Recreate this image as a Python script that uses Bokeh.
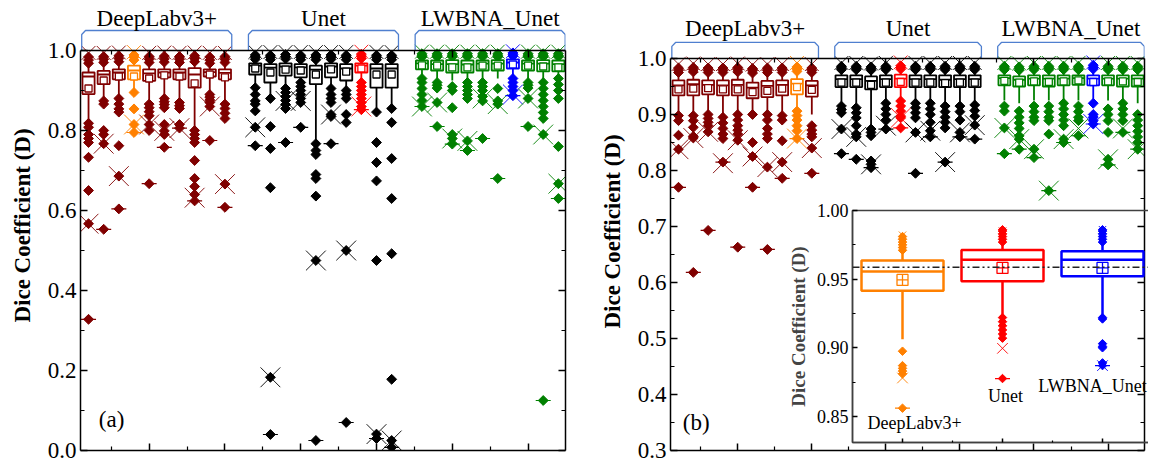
import numpy as np
from bokeh.plotting import figure
from bokeh.models import Range1d, LinearAxis, FixedTicker, NumeralTickFormatter, ColumnDataSource, GridBox, Span
from bokeh.layouts import row
from bokeh.embed import file_html
from bokeh.resources import INLINE
from bokeh.core.properties import value

FONT = "Liberation Serif"
MODELS = ["DeepLabv3+", "Unet", "LWBNA_Unet"]
BASE_COLORS = ["#800000", "#000000", "#008000"]
PICK_COLORS = ["#FF8000", "#FF0000", "#0000FF"]
BRACKET_COLOR = "#4F7FCF"

RUNS = list(range(1, 11))                      # ten runs per model
X_POS = [g * 11 + r for g in range(3) for r in RUNS]
X_MAJOR = [5, 10, 15, 20, 25, 30]
X_MINOR = [2.5, 7.5, 12.5, 17.5, 22.5, 27.5]

# ---------------- panel (a): full test set ----------------
A_PICK = [3, 7, 6]
A_Q1 = [0.891, 0.916, 0.928, 0.928, 0.924, 0.933, 0.928, 0.907, 0.935, 0.928,
        0.940, 0.920, 0.937, 0.933, 0.916, 0.933, 0.925, 0.945, 0.907, 0.907,
        0.953, 0.950, 0.945, 0.945, 0.950, 0.950, 0.955, 0.950, 0.948, 0.948]
A_MED = [0.935, 0.940, 0.945, 0.950, 0.943, 0.945, 0.945, 0.940, 0.946, 0.944,
         0.962, 0.957, 0.960, 0.958, 0.952, 0.960, 0.955, 0.962, 0.955, 0.955,
         0.968, 0.966, 0.966, 0.965, 0.967, 0.967, 0.970, 0.967, 0.967, 0.966]
A_Q3 = [0.945, 0.949, 0.953, 0.962, 0.953, 0.953, 0.953, 0.956, 0.953, 0.953,
        0.968, 0.966, 0.968, 0.966, 0.962, 0.968, 0.966, 0.968, 0.966, 0.966,
        0.975, 0.975, 0.976, 0.975, 0.975, 0.976, 0.978, 0.975, 0.976, 0.975]
A_MEAN = [0.905, 0.925, 0.935, 0.935, 0.930, 0.938, 0.935, 0.918, 0.940, 0.933,
          0.955, 0.945, 0.952, 0.950, 0.940, 0.953, 0.947, 0.955, 0.940, 0.940,
          0.963, 0.962, 0.958, 0.958, 0.962, 0.962, 0.965, 0.962, 0.960, 0.958]
A_WLO = [0.826, 0.876, 0.884, 0.900, 0.868, 0.885, 0.874, 0.800, 0.893, 0.868,
         0.905, 0.880, 0.910, 0.915, 0.770, 0.910, 0.900, 0.920, 0.846, 0.855,
         0.935, 0.930, 0.925, 0.930, 0.930, 0.930, 0.935, 0.930, 0.830, 0.930]
A_WHI = [0.965, 0.968, 0.970, 0.975, 0.968, 0.970, 0.968, 0.970, 0.966, 0.968,
         0.978, 0.976, 0.978, 0.976, 0.976, 0.978, 0.976, 0.980, 0.976, 0.976,
         0.984, 0.984, 0.984, 0.984, 0.984, 0.984, 0.986, 0.984, 0.984, 0.984]
A_LOW = [
    [0.818, 0.808, 0.790, 0.780, 0.770, 0.733, 0.650, 0.567, 0.328],
    [0.874, 0.866, 0.800, 0.790, 0.767, 0.553],
    [0.880, 0.866, 0.854, 0.846, 0.762, 0.686, 0.604],
    [0.895, 0.854, 0.815, 0.795],
    [0.866, 0.857, 0.847, 0.837, 0.815, 0.800, 0.667],
    [0.880, 0.872, 0.865, 0.857, 0.815, 0.799, 0.790, 0.758],
    [0.870, 0.862, 0.855, 0.815, 0.806],
    [0.800, 0.790, 0.780, 0.770, 0.725, 0.680, 0.660, 0.640, 0.624],
    [0.890, 0.883, 0.876, 0.870, 0.860, 0.775],
    [0.866, 0.855, 0.843, 0.830, 0.666, 0.608],
    [0.907, 0.890, 0.874, 0.866, 0.849, 0.808, 0.762],
    [0.880, 0.810, 0.755, 0.657, 0.183, 0.040],
    [0.905, 0.895, 0.885, 0.875, 0.865, 0.855, 0.770],
    [0.920, 0.910, 0.900, 0.890, 0.880, 0.870, 0.808],
    [0.767, 0.750, 0.740, 0.690, 0.680, 0.636, 0.475, 0.025],
    [0.905, 0.890, 0.880, 0.870, 0.840, 0.835, 0.767],
    [0.900, 0.890, 0.880, 0.840, 0.820, 0.500, 0.070],
    [0.920, 0.910, 0.900, 0.890, 0.880, 0.870, 0.860, 0.852],
    [0.846, 0.770, 0.720, 0.674, 0.475, 0.041, 0.030],
    [0.855, 0.820, 0.730, 0.630, 0.492, 0.178, 0.025, 0.008],
    [0.930, 0.920, 0.905, 0.890, 0.875, 0.860],
    [0.920, 0.913, 0.906, 0.870, 0.810],
    [0.910, 0.900, 0.857, 0.790, 0.780, 0.766],
    [0.920, 0.910, 0.900, 0.890, 0.880, 0.774, 0.750],
    [0.920, 0.910, 0.900, 0.885, 0.874, 0.780],
    [0.905, 0.874, 0.866, 0.680],
    [0.930, 0.920, 0.910, 0.900, 0.887],
    [0.920, 0.913, 0.906, 0.880, 0.810],
    [0.920, 0.905, 0.890, 0.875, 0.860, 0.845, 0.830, 0.790, 0.125],
    [0.930, 0.915, 0.900, 0.880, 0.760, 0.667, 0.630],
]
A_HIGH = [
    [0.968, 0.976, 0.984], [0.970, 0.978, 0.985], [0.972, 0.980, 0.987], [0.976, 0.983, 0.989],
    [0.970, 0.978, 0.985], [0.971, 0.979, 0.986], [0.970, 0.978, 0.985], [0.972, 0.980, 0.987],
    [0.968, 0.976, 0.984], [0.970, 0.978, 0.985],
    [0.978, 0.984, 0.989], [0.977, 0.983, 0.988], [0.979, 0.985, 0.990], [0.977, 0.983, 0.988],
    [0.977, 0.983, 0.989], [0.978, 0.984, 0.989], [0.977, 0.983, 0.988], [0.980, 0.986, 0.991],
    [0.977, 0.983, 0.988], [0.977, 0.983, 0.988],
    [0.984, 0.988, 0.992], [0.984, 0.988, 0.992], [0.984, 0.988, 0.992], [0.984, 0.988, 0.992],
    [0.984, 0.988, 0.992], [0.984, 0.988, 0.992], [0.986, 0.990, 0.994], [0.984, 0.988, 0.992],
    [0.984, 0.988, 0.992], [0.984, 0.988, 0.992],
]
A_XLO = [0.567, 0.767, 0.686, 0.815, 0.815, 0.799, 0.806, 0.632, 0.860, 0.666,
         0.808, 0.183, 0.874, 0.874, 0.475, 0.840, 0.500, 0.860, 0.041, 0.025,
         0.860, 0.870, 0.780, 0.774, 0.880, 0.866, 0.890, 0.880, 0.790, 0.667]
A_XHI = [0.994, 0.994, 0.995, 0.996, 0.994, 0.995, 0.994, 0.995, 0.994, 0.994,
         0.996, 0.996, 0.996, 0.996, 0.996, 0.996, 0.996, 0.997, 0.996, 0.996,
         0.997, 0.997, 0.997, 0.997, 0.997, 0.997, 0.998, 0.997, 0.997, 0.997]

# ---------------- panel (b): subset ----------------
B_PICK = [8, 4, 6]
B_Q1 = [0.934, 0.934, 0.936, 0.934, 0.934, 0.929, 0.931, 0.934, 0.936, 0.932,
        0.949, 0.949, 0.945, 0.949, 0.949, 0.949, 0.949, 0.949, 0.949, 0.949,
        0.952, 0.950, 0.952, 0.950, 0.952, 0.953, 0.952, 0.952, 0.950, 0.950]
B_MED = [0.952, 0.954, 0.953, 0.952, 0.953, 0.948, 0.951, 0.953, 0.955, 0.952,
         0.963, 0.963, 0.960, 0.963, 0.964, 0.963, 0.963, 0.962, 0.963, 0.963,
         0.965, 0.962, 0.964, 0.964, 0.964, 0.965, 0.964, 0.964, 0.964, 0.964]
B_Q3 = [0.961, 0.962, 0.961, 0.961, 0.962, 0.957, 0.960, 0.961, 0.963, 0.960,
        0.970, 0.970, 0.968, 0.970, 0.971, 0.970, 0.970, 0.970, 0.970, 0.970,
        0.970, 0.968, 0.970, 0.970, 0.970, 0.970, 0.970, 0.970, 0.970, 0.970]
B_MEAN = [0.945, 0.946, 0.947, 0.945, 0.945, 0.940, 0.942, 0.946, 0.949, 0.944,
          0.957, 0.957, 0.953, 0.957, 0.958, 0.957, 0.957, 0.956, 0.957, 0.957,
          0.960, 0.957, 0.959, 0.958, 0.959, 0.961, 0.958, 0.959, 0.959, 0.958]
B_WLO = [0.905, 0.905, 0.905, 0.900, 0.905, 0.895, 0.905, 0.905, 0.910, 0.900,
         0.920, 0.920, 0.874, 0.925, 0.925, 0.925, 0.925, 0.920, 0.920, 0.920,
         0.925, 0.920, 0.925, 0.925, 0.925, 0.925, 0.925, 0.925, 0.925, 0.920]
B_WHI = [0.972, 0.973, 0.972, 0.972, 0.973, 0.970, 0.971, 0.972, 0.974, 0.971,
         0.978, 0.978, 0.977, 0.978, 0.979, 0.978, 0.978, 0.978, 0.978, 0.978,
         0.978, 0.977, 0.978, 0.978, 0.978, 0.978, 0.978, 0.978, 0.978, 0.978]
B_LOW = [
    [0.898, 0.889, 0.863, 0.838, 0.770],
    [0.898, 0.889, 0.877, 0.861, 0.858, 0.618],
    [0.900, 0.893, 0.886, 0.880, 0.869, 0.693],
    [0.895, 0.885, 0.875, 0.865, 0.857, 0.815],
    [0.900, 0.890, 0.880, 0.872, 0.865, 0.854, 0.663],
    [0.900, 0.850, 0.825, 0.770],
    [0.900, 0.890, 0.875, 0.865, 0.857, 0.806, 0.659],
    [0.898, 0.890, 0.853, 0.815, 0.786],
    [0.906, 0.898, 0.890, 0.880, 0.871, 0.857],
    [0.880, 0.872, 0.865, 0.860, 0.840, 0.795],
    [0.915, 0.909, 0.903, 0.874, 0.830],
    [0.912, 0.903, 0.894, 0.880, 0.865, 0.860, 0.820],
    [0.874, 0.868, 0.862, 0.817, 0.811, 0.805],
    [0.920, 0.910, 0.900, 0.890, 0.874],
    [0.924, 0.915, 0.906, 0.897, 0.894, 0.876],
    [0.920, 0.912, 0.903, 0.894, 0.868, 0.795],
    [0.920, 0.910, 0.900, 0.886, 0.871, 0.860],
    [0.915, 0.905, 0.895, 0.886, 0.876, 0.815],
    [0.915, 0.905, 0.890, 0.868, 0.860],
    [0.917, 0.907, 0.897, 0.881, 0.856],
    [0.915, 0.906, 0.876, 0.830],
    [0.906, 0.895, 0.885, 0.875, 0.862, 0.856, 0.838],
    [0.915, 0.905, 0.895, 0.889, 0.838, 0.823],
    [0.915, 0.905, 0.895, 0.889, 0.865, 0.764],
    [0.920, 0.910, 0.900, 0.890, 0.880, 0.856, 0.850],
    [0.915, 0.905, 0.895, 0.889, 0.862],
    [0.920, 0.900, 0.895, 0.889, 0.883],
    [0.910, 0.900, 0.889, 0.868, 0.820, 0.810],
    [0.920, 0.910, 0.900, 0.889, 0.868],
    [0.900, 0.890, 0.880, 0.870, 0.860, 0.850, 0.838],
]
B_HIGH = [
    [0.975, 0.979, 0.983], [0.976, 0.980, 0.984], [0.975, 0.979, 0.983], [0.975, 0.979, 0.983],
    [0.976, 0.980, 0.984], [0.974, 0.978, 0.982], [0.975, 0.979, 0.983], [0.975, 0.979, 0.983],
    [0.977, 0.981, 0.985], [0.975, 0.979, 0.983],
    [0.980, 0.983, 0.986], [0.980, 0.983, 0.986], [0.979, 0.982, 0.985], [0.980, 0.983, 0.986],
    [0.981, 0.984, 0.987], [0.980, 0.983, 0.986], [0.980, 0.983, 0.986], [0.980, 0.983, 0.986],
    [0.980, 0.983, 0.986], [0.980, 0.983, 0.986],
    [0.980, 0.983, 0.986], [0.979, 0.982, 0.985], [0.980, 0.983, 0.986], [0.980, 0.983, 0.986],
    [0.980, 0.983, 0.986], [0.980, 0.983, 0.986], [0.981, 0.984, 0.988], [0.980, 0.983, 0.986],
    [0.980, 0.983, 0.986], [0.980, 0.983, 0.986],
]
B_XLO = [0.838, 0.858, 0.869, 0.813, 0.854, 0.825, 0.806, 0.815, 0.857, 0.840,
         0.874, 0.860, 0.811, 0.880, 0.894, 0.868, 0.871, 0.815, 0.868, 0.881,
         0.876, 0.856, 0.838, 0.764, 0.856, 0.875, 0.883, 0.820, 0.875, 0.838]
B_XHI = [0.990, 0.991, 0.990, 0.990, 0.991, 0.989, 0.990, 0.990, 0.992, 0.990,
         0.992, 0.992, 0.991, 0.992, 0.993, 0.992, 0.992, 0.992, 0.992, 0.992,
         0.992, 0.991, 0.992, 0.992, 0.992, 0.992, 0.993, 0.992, 0.992, 0.992]

# ---------------- inset (b): pooled runs ----------------
IN_POS = [1, 2, 3]
IN_Q1 = [0.9416, 0.9484, 0.9521]
IN_MED = [0.9555, 0.9642, 0.9642]
IN_Q3 = [0.9635, 0.9713, 0.9703]
IN_MEAN = [0.9494, 0.9582, 0.9582]
IN_WLO = [0.9063, 0.9246, 0.9246]
IN_WHI = [0.9696, 0.9757, 0.9757]
IN_LOW = [[0.8975, 0.887, 0.885, 0.883, 0.881, 0.856],
          [0.922, 0.919, 0.916, 0.913, 0.910, 0.907, 0.8776],
          [0.922, 0.921, 0.903, 0.901, 0.900, 0.889, 0.887]]
IN_HIGH = [[0.971, 0.973, 0.975, 0.977, 0.979, 0.981],
           [0.977, 0.979, 0.981, 0.983, 0.985, 0.986],
           [0.977, 0.979, 0.981, 0.983, 0.985, 0.986]]
IN_XLO = [0.878, 0.8996, 0.887]
IN_XHI = [0.982, 0.985, 0.986]
IN_REF = 0.9586
IN_YTICKS = [0.85, 0.90, 0.95, 1.00]


def style_axis(ax, show_labels, size="23px", tick=7, minor=4):
    ax.axis_line_color = "black"
    ax.axis_line_width = 1.5
    ax.major_tick_line_color = "black"
    ax.minor_tick_line_color = "black"
    ax.major_tick_line_width = 1.5
    ax.minor_tick_line_width = 1.2
    ax.major_tick_in = tick
    ax.major_tick_out = 0
    ax.minor_tick_in = minor
    ax.minor_tick_out = 0
    if show_labels:
        ax.major_label_text_font = FONT
        ax.major_label_text_font_size = size
        ax.major_label_text_color = "black"
        ax.major_label_standoff = 4
    else:
        # tick marks only: labels are not painted
        ax.major_label_text_font_size = "1px"
        ax.major_label_text_color = None
        ax.major_label_standoff = 0


def make_main(x_range, y0, y1, ytop, yticks, yminor, left, right, top, fh, fw, bottom):
    # the frame extends above y1 to leave room for the model brackets; the
    # visible box of the plot runs from y0 to y1 only
    p = figure(x_range=x_range, y_range=Range1d(y0, ytop), frame_width=fw, frame_height=fh,
               output_backend="svg", toolbar_location=None,
               min_border_left=left, min_border_right=right, min_border_top=top,
               min_border_bottom=bottom, align="start")
    p.xgrid.visible = False
    p.ygrid.visible = False
    p.outline_line_color = None
    p.background_fill_color = "white"
    p.border_fill_color = "white"
    xt = FixedTicker(ticks=X_MAJOR, minor_ticks=X_MINOR)
    yt = FixedTicker(ticks=yticks, minor_ticks=yminor)
    p.xaxis.ticker = xt
    style_axis(p.xaxis[0], False)
    p.yaxis.ticker = yt
    p.yaxis.bounds = (y0, y1)
    p.yaxis.formatter = NumeralTickFormatter(format="0.0")
    style_axis(p.yaxis[0], True)
    p.yaxis.axis_label = "Dice Coefficient (D)"
    p.yaxis.axis_label_text_font = FONT
    p.yaxis.axis_label_text_font_style = "bold"
    p.yaxis.axis_label_text_font_size = "23px"
    p.yaxis.axis_label_text_color = "black"
    p.yaxis.axis_label_standoff = 10
    top_ax = LinearAxis(ticker=xt, fixed_location=y1)
    style_axis(top_ax, False)
    p.add_layout(top_ax, "above")
    rgt = LinearAxis(ticker=yt, bounds=(y0, y1))
    style_axis(rgt, False)
    p.add_layout(rgt, "right")
    return p


def draw_boxes(p, xs, q1, med, q3, mean, wlo, whi, lows, highs, xlo, xhi, cols,
               half=0.4, lw=1.8, dsize=7, xsize=28, mean_marker="square", msize=7):
    x = np.array(xs, dtype=float)
    src = ColumnDataSource(dict(x=x, x0=x - half, x1=x + half, q1=q1, med=med, q3=q3,
                                mean=mean, wlo=wlo, whi=whi, c=cols,
                                lo=[min(v) for v in lows], xl=xlo, xh=xhi))
    p.segment("x", "wlo", "x", "q1", source=src, line_color="c", line_width=lw)
    p.segment("x", "q3", "x", "whi", source=src, line_color="c", line_width=lw)
    ox, oy, oc = [], [], []
    for k in range(len(x)):
        for v in list(lows[k]) + list(highs[k]):
            ox.append(x[k])
            oy.append(v)
            oc.append(cols[k])
    p.scatter(x=ox, y=oy, marker="square", angle=np.pi / 4, size=dsize,
              fill_color=oc, line_color=oc)
    p.vbar(x="x", width=2 * half, bottom="q1", top="q3", source=src,
           fill_color="white", line_color="c", line_width=lw)
    p.segment("x0", "med", "x1", "med", source=src, line_color="c", line_width=lw)
    p.scatter("x", "mean", source=src, marker=mean_marker, size=msize,
              fill_color="white", line_color="c", line_width=1.3)
    p.scatter("x", "xl", source=src, marker="x", size=xsize, line_color="c", line_width=0.9)
    p.scatter("x", "xh", source=src, marker="x", size=xsize * 0.7, line_color="c", line_width=0.9)
    p.scatter("x", "lo", source=src, marker="dash", size=15, line_color="c", line_width=1.2)


def box_colors(pick):
    out = []
    for g in range(3):
        for r in range(10):
            out.append(PICK_COLORS[g] if r == pick[g] else BASE_COLORS[g])
    return out


def draw_brackets(p, base, rise, corner, text_y):
    xs_list, ys_list = [], []
    for g in range(3):
        lo = X_POS[g * 10] - 0.45
        hi = X_POS[g * 10 + 9] + 0.45
        c = 0.25
        xs_list.append([lo, lo, lo + c, hi - c, hi, hi])
        ys_list.append([base, base + rise - corner, base + rise, base + rise,
                        base + rise - corner, base])
    p.multi_line(xs_list, ys_list, line_color=BRACKET_COLOR, line_width=1.3)
    centers = [(X_POS[g * 10] + X_POS[g * 10 + 9]) / 2 for g in range(3)]
    p.text(x=centers, y=[text_y] * 3, text=MODELS, text_align="center", text_baseline="middle",
           text_font=value(FONT), text_font_size="23px", text_color="black")


# ---------------- panel (a) ----------------
xr_a = Range1d(0.47, 32.47)
main_a = make_main(xr_a, 0.0, 1.0, 1.125, [0.0, 0.2, 0.4, 0.6, 0.8, 1.0],
                   [0.1, 0.3, 0.5, 0.7, 0.9], 80, 31, 0, 450, 485, 14)
draw_boxes(main_a, X_POS, A_Q1, A_MED, A_Q3, A_MEAN, A_WLO, A_WHI, A_LOW, A_HIGH,
           A_XLO, A_XHI, box_colors(A_PICK))
draw_brackets(main_a, 1.0, 0.05, 0.01, 1.08)
main_a.text(x=[2.52], y=[0.078], text=["(a)"], text_align="center", text_baseline="middle",
            text_font=value(FONT), text_font_size="23px", text_color="black")

# ---------------- panel (b) ----------------
xr_b = Range1d(0.46, 32.46)
main_b = make_main(xr_b, 0.3, 1.0, 1.0821, [0.3, 0.4, 0.5, 0.6, 0.7, 0.8, 0.9, 1.0],
                   [0.35, 0.45, 0.55, 0.65, 0.75, 0.85, 0.95], 72, 12, 12, 438, 474, 14)
draw_boxes(main_b, X_POS, B_Q1, B_MED, B_Q3, B_MEAN, B_WLO, B_WHI, B_LOW, B_HIGH,
           B_XLO, B_XHI, box_colors(B_PICK))
draw_brackets(main_b, 1.0, 0.0286, 0.007, 1.0536)
main_b.text(x=[2.2], y=[0.35], text=["(b)"], text_align="center", text_baseline="middle",
            text_font=value(FONT), text_font_size="23px", text_color="black")

# ---------------- inset ----------------
inset = figure(x_range=Range1d(0.5, 3.52), y_range=Range1d(0.831, 1.0), frame_width=302,
               frame_height=232, output_backend="svg", toolbar_location=None,
               min_border_left=62, min_border_right=0, min_border_top=12, min_border_bottom=2,
               margin=(198, 0, 0, 182), align="start")
inset.xgrid.visible = False
inset.ygrid.visible = False
inset.outline_line_color = "#404040"
inset.outline_line_width = 1.5
inset.background_fill_color = None
inset.border_fill_color = None
inset.xaxis.ticker = FixedTicker(ticks=IN_POS, minor_ticks=[1.5, 2.5])
style_axis(inset.xaxis[0], False, tick=4, minor=2)
inset.xaxis.axis_line_color = "#404040"
inset.yaxis.ticker = FixedTicker(ticks=IN_YTICKS, minor_ticks=[0.875, 0.925, 0.975])
inset.yaxis.formatter = NumeralTickFormatter(format="0.00")
style_axis(inset.yaxis[0], True, size="18px", tick=5, minor=3)
inset.yaxis.axis_line_color = "#404040"
inset.yaxis.axis_label = "Dice Coefficient (D)"
inset.yaxis.axis_label_text_font = FONT
inset.yaxis.axis_label_text_font_style = "bold"
inset.yaxis.axis_label_text_font_size = "19px"
inset.yaxis.axis_label_standoff = 5
inset.add_layout(Span(location=IN_REF, dimension="width", line_color="#222222",
                      line_width=1.5, line_dash="7 3 2 3 2 3"))
draw_boxes(inset, IN_POS, IN_Q1, IN_MED, IN_Q3, IN_MEAN, IN_WLO, IN_WHI, IN_LOW, IN_HIGH,
           IN_XLO, IN_XHI, PICK_COLORS, half=0.41, lw=2.5, dsize=6, xsize=15,
           mean_marker="square_cross", msize=11)
inset.text(x=[1.12, 2.03, 2.9], y=[0.845, 0.865, 0.872], text=MODELS, text_align="center",
           text_baseline="middle", text_font=value(FONT), text_font_size="18px",
           text_color="black")

panel_b = GridBox(children=[(main_b, 0, 0), (inset, 0, 0)], align="start")
layout = row(main_a, panel_b)

open("out.html", "w").write(file_html(layout, INLINE))
